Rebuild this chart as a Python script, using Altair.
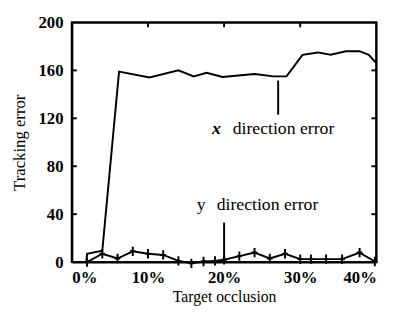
import altair as alt
import pandas as pd

# x direction error series
x_occ = [1.9, 2.0, 4.0, 6.2, 10.2, 14.0, 16.0, 17.7, 19.8, 24.0, 26.5, 28.2, 30.3, 32.3, 34.0, 36.0, 37.8, 39.0, 40.0]
x_err = [0.0, 7.0, 9.5, 159.0, 154.0, 160.0, 155.0, 158.0, 154.5, 157.0, 155.0, 155.0, 173.0, 175.0, 173.0, 176.0, 176.0, 173.0, 166.0]

# y direction error series
y_occ = [2.0, 4.0, 6.0, 8.0, 10.0, 12.0, 14.0, 15.7, 17.3, 18.8, 20.0, 22.0, 24.0, 26.0, 28.0, 30.0, 31.4, 33.4, 35.5, 37.8, 39.8]
y_err = [0.0, 7.0, 3.0, 9.0, 7.0, 6.0, 1.0, -1.0, 0.5, 1.0, 2.0, 5.0, 8.0, 3.0, 7.0, 2.5, 2.5, 2.5, 2.5, 8.0, 0.5]

x_ticks = [0, 10, 20, 30, 40]
y_ticks = [0, 40, 80, 120, 160, 200]

FONT = "Liberation Serif"

dx = pd.DataFrame({"occ": x_occ, "err": x_err})
dy = pd.DataFrame({"occ": y_occ, "err": y_err})

xs = alt.Scale(domain=[0, 40], nice=False)
ys = alt.Scale(domain=[0, 200], nice=False)

xaxis = alt.Axis(values=x_ticks, labelExpr="datum.value + '%'", title="Target occlusion",
                 labelPadding=8, titlePadding=3, domain=True, domainColor="black",
                 domainWidth=2, ticks=False, grid=False,
                 labelFont=FONT, labelFontSize=17, labelColor="black", labelFontWeight="bold",
                 titleFont=FONT, titleFontSize=16, titleFontWeight="normal", titleColor="black")
yaxis = alt.Axis(values=y_ticks, title="Tracking error", labelPadding=9, titlePadding=10,
                 domain=True, domainColor="black", domainWidth=2, ticks=False, grid=False,
                 labelFont=FONT, labelFontSize=17, labelColor="black", labelFontWeight="bold",
                 titleFont=FONT, titleFontSize=17, titleFontWeight="normal", titleColor="black")
xenc = alt.X("occ:Q", scale=xs, axis=xaxis)
yenc = alt.Y("err:Q", scale=ys, axis=yaxis)

# frame drawn as a closed polyline through the data corners
frame_df = pd.DataFrame({
    "occ": [0.0, 0.0, 40.0, 40.0, 0.0],
    "err": [0.0, 200.0, 200.0, 0.0, 0.0],
    "k": [0, 1, 2, 3, 4],
})
frame = alt.Chart(frame_df).mark_line(color="black", strokeWidth=2).encode(
    x=xenc, y=yenc, order="k:Q")

# inner ticks as short line segments
tick_seg = pd.DataFrame({
    "occ": [0.0, 0.65] * 4 + [40.0, 39.35] * 4 + [10.0, 10.0, 20.0, 20.0, 30.0, 30.0],
    "err": [40.0, 40.0, 80.0, 80.0, 120.0, 120.0, 160.0, 160.0] * 2 + [200.0, 196.0] * 3,
    "g": [i // 2 for i in range(22)],
    "k": [i % 2 for i in range(22)],
})
ticks = alt.Chart(tick_seg).mark_line(color="black", strokeWidth=2).encode(
    x=xenc, y=yenc, detail="g:N", order="k:Q")

line_x = alt.Chart(dx).mark_line(color="black", strokeWidth=2).encode(x=xenc, y=yenc)
line_y = alt.Chart(dy).mark_line(color="black", strokeWidth=2).encode(x=xenc, y=yenc)
pts_y = alt.Chart(dy).mark_point(shape="M0,-1L0,1M-0.6,0L0.6,0", size=90, color="black",
                                 strokeWidth=2, opacity=1).encode(x=xenc, y=yenc)

# annotations
ann = pd.DataFrame({
    "occ": [19.0, 27.8, 17.0, 25.7],
    "err": [111.0, 111.0, 48.0, 48.0],
    "t": ["x", "direction error", "y", "direction error"],
    "kind": ["var_x", "plain", "var_y", "plain"],
})

def txt(df, style="normal", weight="normal"):
    return alt.Chart(df).mark_text(font=FONT, fontSize=18, align="center", baseline="middle",
                                   fontStyle=style, fontWeight=weight, color="black").encode(
        x=xenc, y=yenc, text="t:N")

lead_df = pd.DataFrame({"occ": [27.1, 20.0], "err": [151.5, 33.0], "err2": [123.0, 1.0]})
leaders = alt.Chart(lead_df).mark_rule(color="black", strokeWidth=2).encode(
    x=xenc, y=yenc, y2="err2:Q")

chart = alt.layer(
    frame, ticks, line_x, line_y, pts_y, leaders,
    txt(ann[ann.kind == "var_x"], "italic", "bold"),
    txt(ann[ann.kind != "var_x"]),
).properties(
    width=310, height=244,
    autosize=alt.AutoSizeParams(type="none"),
    padding={"left": 65, "top": 12, "right": 20, "bottom": 44},
).configure_view(stroke="black", strokeWidth=2)

chart.save("out.html", embed_options={"renderer": "svg", "actions": False})
